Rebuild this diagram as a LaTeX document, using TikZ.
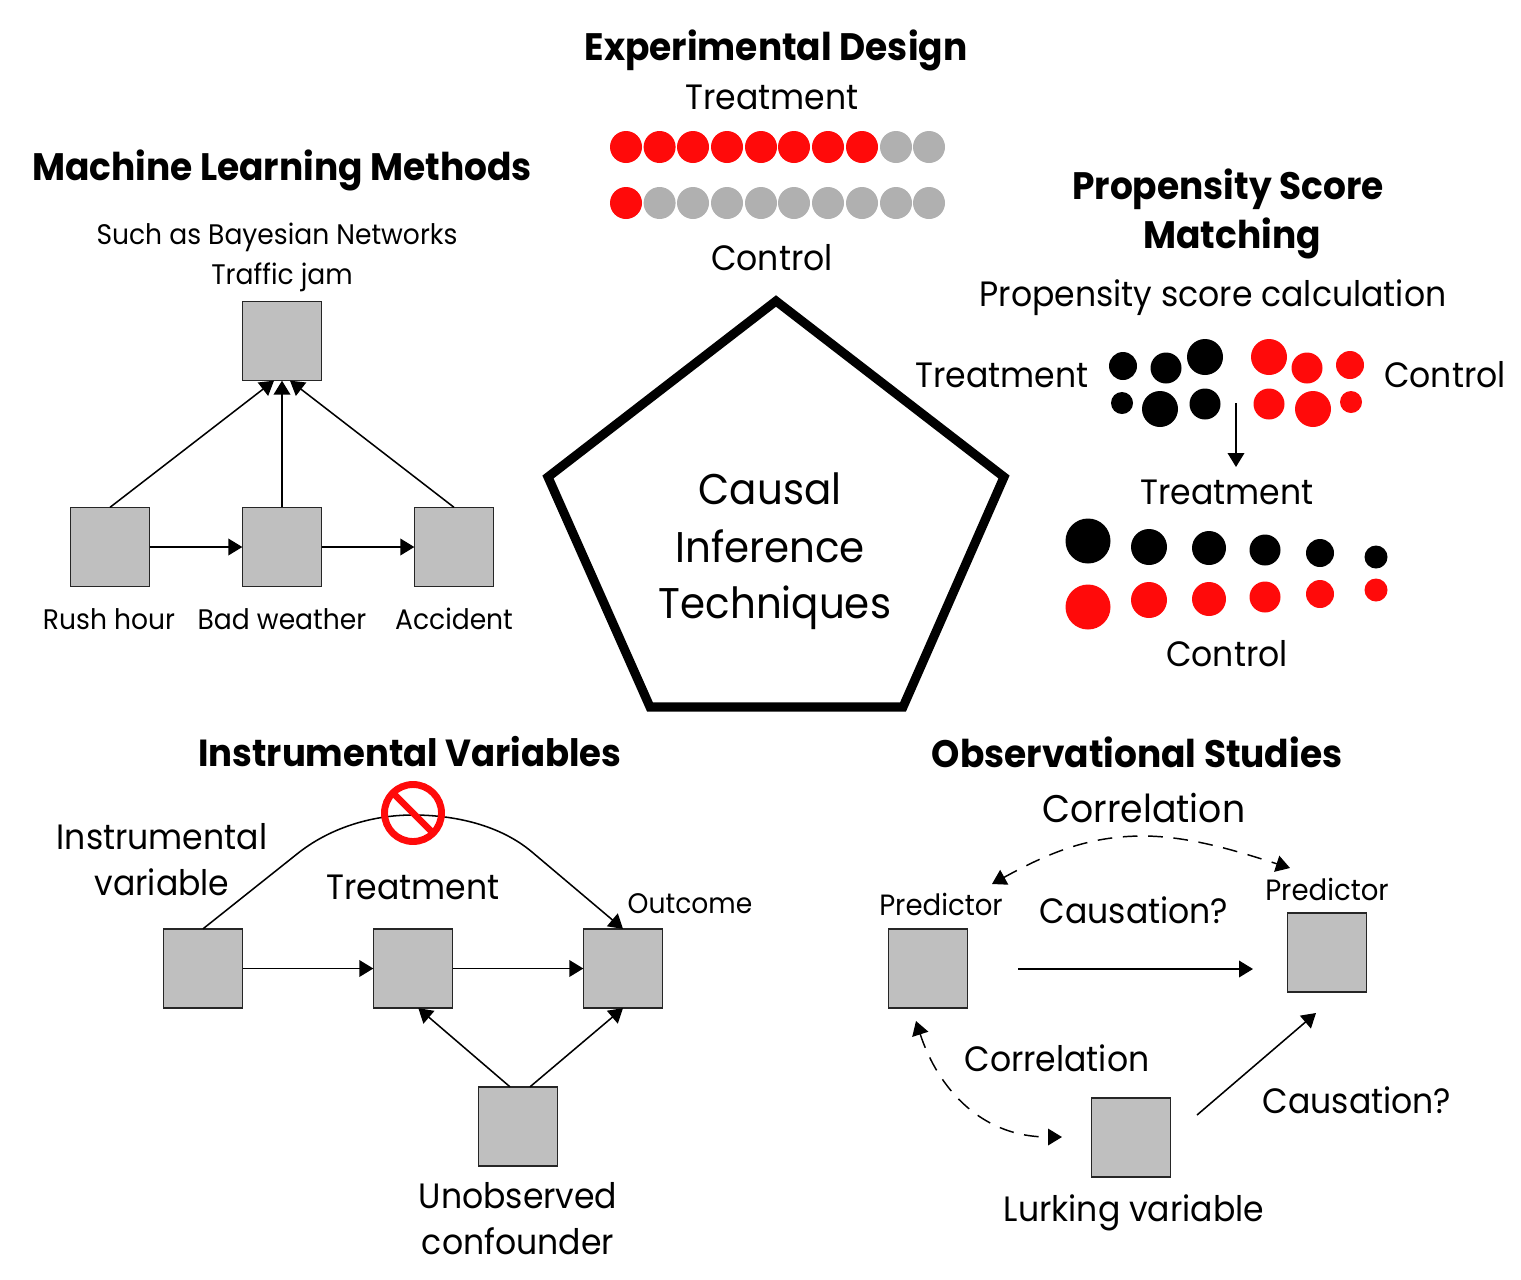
\documentclass[tikz,border=0pt]{standalone}
\usepackage{fontspec}
\setmainfont[FakeStretch=0.94]{Poppins}
\usetikzlibrary{arrows.meta}
\tikzset{
  x=0.75pt,y=-0.75pt,
  sq/.style={draw=black!85,fill=gray75,line width=1.1pt,minimum size=59.5pt,inner sep=0pt,outer sep=0pt},
  lbl/.style={inner sep=0pt,font=\fontsize{26.4}{26.4}\selectfont},
  lblw/.style={inner sep=0pt,font=\fontsize{28.9}{28.9}\selectfont},
  sml/.style={inner sep=0pt,font=\fontsize{21.2}{21.2}\selectfont},
  smlw/.style={inner sep=0pt,font=\fontsize{22}{22}\selectfont},
  big/.style={inner sep=0pt,font=\fontsize{32.2}{32.2}\selectfont},
  ttl/.style={inner sep=0pt,font=\fontsize{28.7}{28.7}\selectfont\bfseries},
  ttln/.style={inner sep=0pt,font=\fontsize{28.3}{28.3}\selectfont\bfseries},
  arr/.style={line width=1.15pt,-{Triangle[length=10.5pt,width=12.5pt]}},
  darr/.style={line width=1.1pt,dash pattern=on 11pt off 8pt,{Triangle[length=10.5pt,width=12.5pt]}-{Triangle[length=10.5pt,width=12.5pt]}},
  dotb/.style={circle,fill=black,inner sep=0pt,outer sep=0pt},
  dotr/.style={circle,fill=redd,inner sep=0pt,outer sep=0pt},
  dotg/.style={circle,fill=dotgray,inner sep=0pt,outer sep=0pt,minimum size=24pt},
  dotk/.style={circle,fill=redd,inner sep=0pt,outer sep=0pt,minimum size=24pt},
}
\definecolor{gray75}{HTML}{BFBFBF}
\definecolor{redd}{HTML}{FF0A0A}
\definecolor{dotgray}{HTML}{B0B0B0}
\begin{document}
\begin{tikzpicture}
\useasboundingbox (0,0) rectangle (1521,1279);
% Pentagon
\node[big] (c1) at (770,489) {Causal};
\node[big] (c2) at (770,546) {Inference};
\node[big] (c3) at (775,608) {Techniques};
\draw[line width=6.8pt,miter limit=10] (776,301) -- (1004,477) -- (903,707) -- (650,707) -- (548,477) -- cycle;
% Experimental design
\node[ttl] (t1) at (776,50) {Experimental Design};
\node[lbl] (e1) at (772,97) {Treatment};
\node[lbl] (e2) at (772,258) {Control};
\foreach \i/\xx in {1/626,2/659.6,3/693,4/727,5/761,6/794,7/828,8/862}{\node[dotk] (ea\i) at (\xx,147) {};}
\foreach \i/\xx in {9/896,10/929}{\node[dotg] (ea\i) at (\xx,147) {};}
\node[dotk] (eb1) at (626,203) {};
\foreach \i/\xx in {2/659.6,3/693,4/727,5/761,6/794,7/828,8/862,9/896,10/929}{\node[dotg] (eb\i) at (\xx,203) {};}
% Machine learning
\node[ttl] (t2) at (282,170) {Machine Learning Methods};
\node[sml] (m0) at (277,237) {Such as Bayesian Networks};
\node[sml] (m1) at (282,277) {Traffic jam};
\node[sq] (jam) at (282,341) {};
\node[sq] (rush) at (110,547) {};
\node[sq] (bad) at (282,547) {};
\node[sq] (acc) at (454,547) {};
\node[sml] (m2) at (109,619) {Rush hour};
\node[sml] (m3) at (282,619) {Bad weather};
\node[sml] (m4) at (454,619) {Accident};
\draw[arr] (rush.north) -- ([xshift=-6pt]jam.south);
\draw[arr] (bad.north) -- (jam.south);
\draw[arr] (acc.north) -- ([xshift=6pt]jam.south);
\draw[arr] (rush.east) -- (bad.west);
\draw[arr] (bad.east) -- (acc.west);
% Propensity
\node[ttl] (t3) at (1228,189) {Propensity Score};
\node[ttl] (t3b) at (1232,238) {Matching};
\node[lbl] (p0) at (1213,298) {Propensity score calculation};
\node[lbl] (p1) at (1002,375) {Treatment};
\node[lbl] (p2) at (1445,375) {Control};
\node[lbl] (p3) at (1227,492) {Treatment};
\node[lbl] (p4) at (1227,654) {Control};
\foreach \xx/\yy/\r in {1123/366/14,1166/368/15.5,1205/357/18,1122/403/11,1160/409/18,1205/404/15.5,
  1088/541/22.5,1149/547/18,1209/548/17,1265/550/15.5,1320/553/14,1376/557/11.5}{
  \node[dotb,minimum size=1.5*\r pt] at (\xx,\yy) {};}
\foreach \xx/\yy/\r in {1269/357/18,1307/368/15.5,1350/365/14,1269/404/15.5,1313/409/18,1351/402/11,
  1088/607/22.5,1149/600/18,1209/599/17,1265/597/15.5,1320/594/14,1376/590/11.5}{
  \node[dotr,minimum size=1.5*\r pt] at (\xx,\yy) {};}
\coordinate (pa) at (1236,403);
\coordinate (pb) at (1236,467);
\draw[arr] (pa) -- (pb);
% Instrumental
\node[ttln] (t4) at (410,752) {Instrumental Variables};
\node[lbl] (i1) at (162,837) {Instrumental};
\node[lbl] (i2) at (162,882) {variable};
\node[lbl] (i3) at (413,887) {Treatment};
\node[sml] (i4) at (690,904) {Outcome};
\node[lbl] (i5) at (518,1196) {Unobserved};
\node[lbl] (i6) at (518,1241) {confounder};
\node[sq] (z) at (203,968.5) {};
\node[sq] (x) at (413,968.5) {};
\node[sq] (y) at (623,968.5) {};
\node[sq] (u) at (518,1126.5) {};
\draw[arr] (z.north) -- (297,854) .. controls (328,829) and (370,815) .. (413,815) .. controls (455,815) and (500,825) .. (532,852) -- (y.north);
\draw[arr] (z.east) -- (x.west);
\draw[arr] (x.east) -- (y.west);
\draw[arr] ([xshift=-6pt]u.north) -- ([xshift=4pt]x.south);
\draw[arr] ([xshift=9pt]u.north) -- (y.south);
\draw[redd,line width=5.2pt] (413,813) circle[radius=28.5];
\draw[redd,line width=5pt] (393,793) -- (433,833);
% Observational
\node[ttl] (t5) at (1137,752) {Observational Studies};
\node[lblw] (o1) at (1144,808) {Correlation};
\node[smlw] (o2) at (941,904) {Predictor};
\node[smlw] (o3) at (1327,889) {Predictor};
\node[lbl] (o4) at (1134,910) {Causation?};
\node[lbl] (o5) at (1057,1058) {Correlation};
\node[lbl] (o6) at (1357,1100) {Causation?};
\node[lbl] (o7) at (1134,1213) {Lurking variable};
\node[sq] (a) at (928,968.5) {};
\node[sq] (b) at (1327,952.5) {};
\node[sq] (l) at (1131,1137.5) {};
\coordinate (ca) at (1018,969);
\coordinate (cb) at (1253,969);
\coordinate (da) at (1197,1115);
\coordinate (db) at (1316,1013);
\coordinate (ea) at (992,884);
\coordinate (eb) at (1290,868);
\coordinate (fa) at (916,1021);
\coordinate (fb) at (1062,1137);
\draw[arr] (ca) -- (cb);
\draw[arr] (da) -- (db);
\draw[darr] (ea) .. controls (1050,852) and (1090,836) .. (1143,836) .. controls (1190,836) and (1240,852) .. (eb);
\draw[darr] (fa) .. controls (935,1080) and (975,1137) .. (fb);
\end{tikzpicture}
\end{document}
